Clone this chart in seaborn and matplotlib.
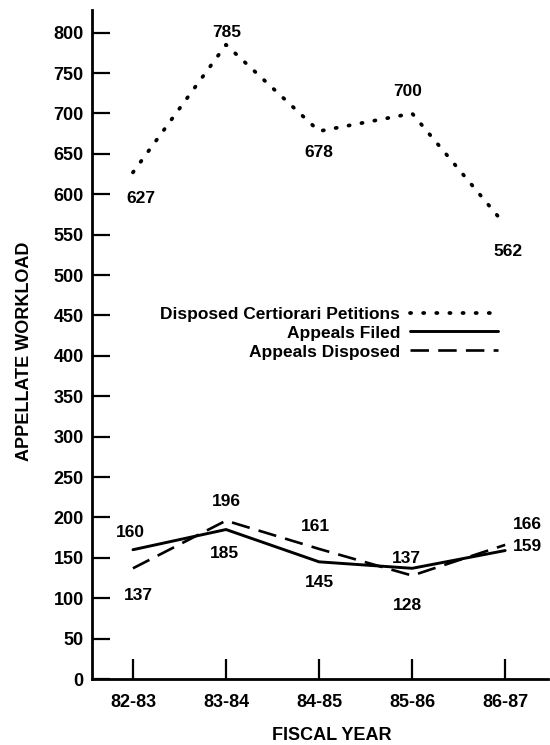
import matplotlib
matplotlib.use("Agg")
import matplotlib.pyplot as plt
import seaborn as sns
import numpy as np
from matplotlib.lines import Line2D

years = ["82-83", "83-84", "84-85", "85-86", "86-87"]
certiorari = [627, 785, 678, 700, 562]
appeals_filed = [160, 185, 145, 137, 159]
appeals_disposed = [137, 196, 161, 128, 166]
y_ticks = list(range(0, 801, 50))

sns.set_theme(style="white")
plt.rcParams['font.family'] = ['Liberation Sans', 'DejaVu Sans']
plt.rcParams['font.weight'] = 'bold'
for k in ['text.color', 'axes.labelcolor', 'xtick.color', 'ytick.color']:
    plt.rcParams[k] = 'black'

fig = plt.figure(figsize=(5.5, 7.45), dpi=100)
ax = fig.add_axes([92/550, 1-679/745, (548-92)/550, (679-10)/745])

x = np.arange(len(years))
dot_style = dict(linestyle=(0, (0.3, 3.2)), dash_capstyle='round', linewidth=2.7)
solid_style = dict(linestyle='-', linewidth=2.1)
dash_style = dict(linestyle=(0, (7, 3.5)), linewidth=1.9)

sns.lineplot(x=x, y=certiorari, ax=ax, color='black', **dot_style)
sns.lineplot(x=x, y=appeals_filed, ax=ax, color='black', **solid_style)
sns.lineplot(x=x, y=appeals_disposed, ax=ax, color='black', **dash_style)

ax.set_xlim(-0.44, 4.46)
ax.set_ylim(0, 828)
ax.set_yticks(y_ticks)
ax.set_yticklabels([str(v) for v in y_ticks], fontsize=13, fontweight='bold')
ax.set_xticks(x)
ax.set_xticklabels(years, fontsize=13, fontweight='bold')
ax.tick_params(axis='y', direction='in', length=13, width=1.6, pad=6, colors='black', left=True)
ax.tick_params(axis='x', direction='in', length=14.5, width=1.6, pad=11, colors='black', bottom=True)

for s in ['top', 'right']:
    ax.spines[s].set_visible(False)
for s in ['left', 'bottom']:
    ax.spines[s].set_color('black')
    ax.spines[s].set_linewidth(2.0)

ax.set_ylabel("APPELLATE WORKLOAD", fontsize=13, fontweight='bold', color='black', va='center')
ax.yaxis.set_label_coords(-0.147, 0.49)
ax.set_xlabel("FISCAL YEAR", fontsize=13, fontweight='bold', color='black', va='center')
ax.xaxis.set_label_coords(0.525, -0.084)

def label(vals, offsets):
    for i, (v, (dx, dy)) in enumerate(zip(vals, offsets)):
        ax.annotate(str(v), (x[i], v), xytext=(dx, dy), textcoords='offset pixels',
                    ha='center', va='center', fontsize=12.5, fontweight='bold', color='black')

label(certiorari, [(8, -26), (1, 12), (0, -21), (-4, 22), (3, -27)])
label(appeals_filed, [(-3, 17), (-2, -24), (0, -21), (-6, 10), (22, 4)])
label(appeals_disposed, [(5, -27), (0, 19), (-4, 22), (-5, -30), (22, 20)])

handles = [Line2D([], [], color='black', **dot_style),
           Line2D([], [], color='black', **solid_style),
           Line2D([], [], color='black', **dash_style)]
labels = ["Disposed Certiorari Petitions", "Appeals Filed", "Appeals Disposed"]
fig.legend(handles, labels, loc='center', bbox_to_anchor=(329/550, 1-333/745),
           bbox_transform=fig.transFigure, frameon=False, markerfirst=False,
           handlelength=5.05, handletextpad=0.57, labelspacing=0.22, borderpad=0,
           labelcolor='black', prop={'size': 12.5, 'weight': 'bold'})

fig.savefig("out.png", dpi=100)
